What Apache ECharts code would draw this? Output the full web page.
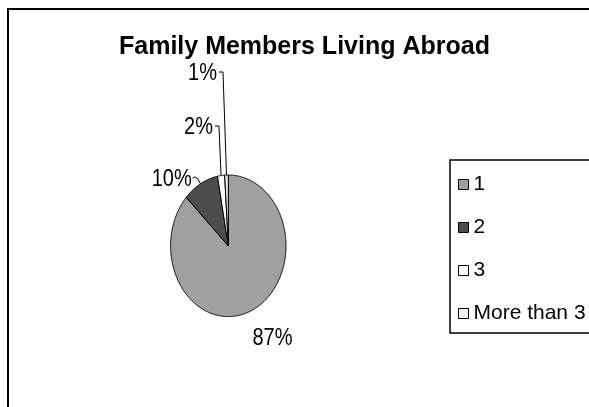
<!DOCTYPE html>
<html>
<head>
<meta charset="utf-8">
<script src="https://cdn.jsdelivr.net/npm/echarts@6/dist/echarts.min.js"></script>
<style>
html,body{margin:0;padding:0;background:#fff;}
#chart{width:589px;height:407px;}
</style>
</head>
<body>
<div id="chart"></div>
<script>
// ---- data ----
const title = 'Family Members Living Abroad';
const categories = ['1', '2', '3', 'More than 3'];
const values = [87, 10, 2, 1];
const colors = ['#a0a0a0', '#4d4d4d', '#ffffff', '#f2f2f2'];

// ---- layout (not data) ----
const FONT = "'Liberation Sans', Arial, Helvetica, sans-serif";
const pieCenter = [228.3, 245.8];
const pieRadii = [57.7, 70.8];
// label offsets from the slice's mid-angle edge point: [dx, dy, align, leader]
const labelOffsets = [
  [21.3, 27.5, 'center', false],
  [-8.8, -4.8, 'right', 'curve'],
  [-8.1, -48.6, 'right', 'hook'],
  [-9.5, -102, 'right', 'hook']
];

const total = values.reduce((a, b) => a + b, 0);
const cumStart = [];
values.reduce((acc, v, i) => { cumStart[i] = acc; return acc + v; }, 0);

function ellPoint(frac) {
  const t = frac * 2 * Math.PI;
  return [pieCenter[0] + pieRadii[0] * Math.sin(t), pieCenter[1] - pieRadii[1] * Math.cos(t)];
}

function makeRender(idx) {
  return function (params, api) {
    const v = api.value(0);
    const f0 = cumStart[idx] / total;
    const f1 = (cumStart[idx] + v) / total;
    const pts = [pieCenter.slice()];
    const steps = Math.max(2, Math.ceil((f1 - f0) * 720));
    for (let s = 0; s <= steps; s++) {
      pts.push(ellPoint(f0 + (f1 - f0) * s / steps));
    }
    const children = [{
      type: 'polygon',
      shape: { points: pts },
      style: { fill: api.visual('color'), stroke: '#000', lineWidth: 1 }
    }];
    const mid = ellPoint((f0 + f1) / 2);
    const off = labelOffsets[idx];
    const lx = mid[0] + off[0];
    const ly = mid[1] + off[1];
    children.push({
      type: 'text',
      x: lx, y: ly,
      scaleY: 1.2,
      style: {
        text: Math.round(v / total * 100) + '%',
        x: 0, y: 0,
        align: off[2], verticalAlign: 'middle',
        font: '20px ' + FONT, fill: '#000'
      },
      z2: 10
    });
    if (off[3] === 'hook') {
      children.push({
        type: 'polyline',
        shape: { points: [[lx + 2, ly - 1], [lx + 6, ly - 1], [mid[0], mid[1]]] },
        style: { stroke: '#000', lineWidth: 1, fill: 'none' },
        z2: 10
      });
    } else if (off[3] === 'curve') {
      children.push({
        type: 'polyline',
        shape: { points: [[lx + 1, ly - 1], [lx + 4, ly - 2], [lx + 6, ly], [mid[0], mid[1]]] },
        style: { stroke: '#000', lineWidth: 1, fill: 'none' },
        z2: 10
      });
    }
    return { type: 'group', children: children };
  };
}

const chart = echarts.init(document.getElementById('chart'), null, { renderer: 'canvas' });
chart.setOption({
  backgroundColor: '#fff',
  animation: false,
  title: {
    text: title,
    left: 119, top: 35, padding: 0,
    textStyle: { fontSize: 25, fontWeight: 'bold', fontFamily: FONT, color: '#000' }
  },
  legend: {
    orient: 'vertical',
    left: 450, top: 160,
    data: categories,
    icon: 'rect',
    itemWidth: 10, itemHeight: 10, itemGap: 22,
    padding: [14, 30, 9, 8],
    borderColor: '#000', borderWidth: 1.5, borderRadius: 0,
    textStyle: { fontSize: 21, fontFamily: FONT, color: '#000' },
    itemStyle: { borderColor: '#000', borderWidth: 1 },
    selectedMode: false
  },
  graphic: [{
    type: 'rect', silent: true, z: -10,
    shape: { x: 8, y: 9, width: 700, height: 500 },
    style: { fill: 'none', stroke: '#000', lineWidth: 2 }
  }],
  series: categories.map((name, i) => ({
    type: 'custom',
    name: name,
    coordinateSystem: 'none',
    itemStyle: { color: colors[i] },
    data: [[values[i]]],
    renderItem: makeRender(i)
  }))
});
</script>
</body>
</html>
